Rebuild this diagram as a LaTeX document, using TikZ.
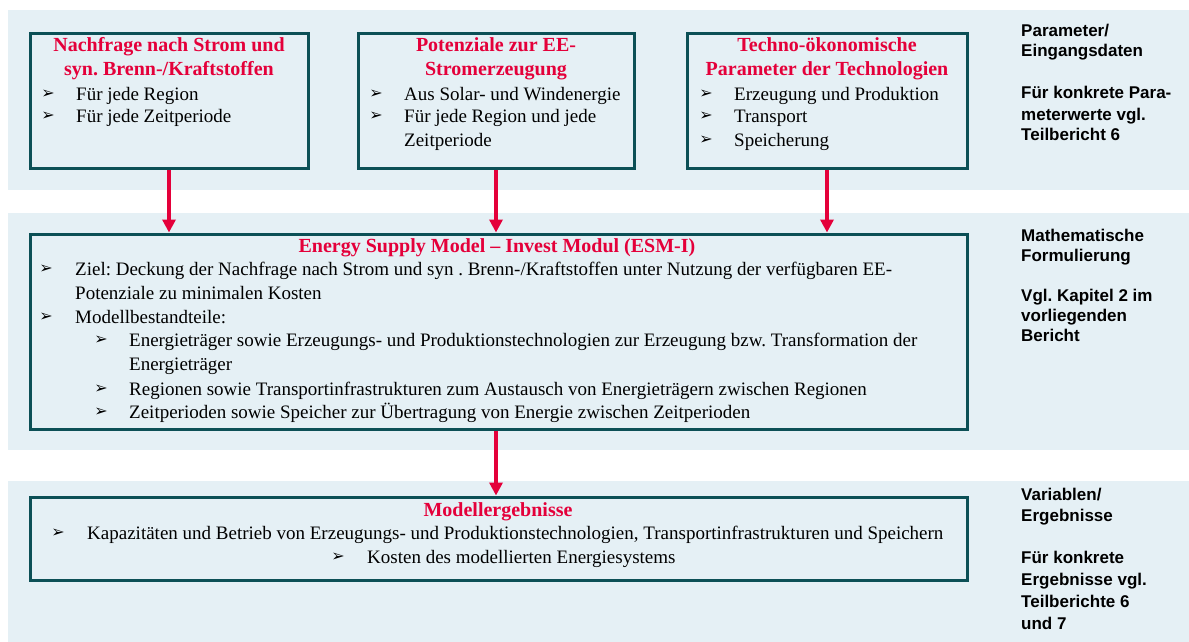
\documentclass[tikz,border=0pt]{standalone}
\usepackage{fontspec}
\setmainfont{Liberation Serif}
\newfontfamily\headfont{Liberation Sans}
\newfontfamily\symfont{DejaVu Sans}
\usetikzlibrary{arrows.meta}
\definecolor{band}{RGB}{229,240,245}
\definecolor{frame}{RGB}{12,80,86}
\definecolor{accent}{RGB}{228,0,58}
\frenchspacing
\begin{document}
\begin{tikzpicture}[x=1pt,y=-1pt,
  bandbox/.style={fill=band,draw=none},
  box/.style={draw=frame,line width=3pt,fill=band,inner sep=0pt},
  title/.style={font=\fontsize{20}{24}\selectfont\bfseries,text=accent,inner sep=0pt,anchor=base},
  body/.style={font=\fontsize{19}{23}\selectfont,inner sep=0pt,anchor=base west},
  blt/.style={font=\symfont\fontsize{16}{18}\selectfont,inner sep=0pt,anchor=center},
  side/.style={font=\headfont\bfseries\fontsize{17}{21}\selectfont,inner sep=0pt,anchor=base west},
  arr/.style={draw=accent,line width=4pt,-{Triangle[length=13pt,width=13pt]}}]
\useasboundingbox (0,0) rectangle (1189,642);
\fill[white] (0,0) rectangle (1189,642);
% bands
\fill[bandbox] (8,10) rectangle (1189,190);
\fill[bandbox] (8,213) rectangle (1189,450);
\fill[bandbox] (8,481) rectangle (1189,642);
% boxes
\node[box,minimum width=278pt,minimum height=134pt] (b1) at (169,101) {};
\node[box,minimum width=276pt,minimum height=134pt] (b2) at (496,101) {};
\node[box,minimum width=280pt,minimum height=134pt] (b3) at (827,101) {};
\node[box,minimum width=937pt,minimum height=195pt] (esm) at (498.5,331.5) {};
\node[box,minimum width=937pt,minimum height=83pt] (res) at (498.5,538.5) {};
% arrows
\draw[arr] (b1.south) -- (b1.south |- esm.north);
\draw[arr] (b2.south) -- (b2.south |- esm.north);
\draw[arr] (b3.south) -- (b3.south |- esm.north);
\draw[arr] (esm.south -| b2.south) -- (b2.south |- res.north);
% box 1
\node[title] (t1a) at (169,52) {Nachfrage nach Strom und};
\node[title] (t1b) at (169,75.5) {syn. Brenn-/Kraftstoffen};
\node[blt] (p1a) at (48,94.5) {➢};
\node[body] (l1a) at (76,100) {Für jede Region};
\node[blt] (p1b) at (48,116.5) {➢};
\node[body] (l1b) at (76,122) {Für jede Zeitperiode};
% box 2
\node[title] (t2a) at (496,52) {Potenziale zur EE-};
\node[title] (t2b) at (496,75.5) {Stromerzeugung};
\node[blt] (p2a) at (376,94.5) {➢};
\node[body] (l2a) at (404,100) {Aus Solar- und Windenergie};
\node[blt] (p2b) at (376,116.5) {➢};
\node[body] (l2b) at (404,122) {Für jede Region und jede};
\node[body] (l2c) at (404,146) {Zeitperiode};
% box 3
\node[title] (t3a) at (827,52) {Techno-ökonomische};
\node[title] (t3b) at (827,75.5) {Parameter der Technologien};
\node[blt] (p3a) at (706,94.5) {➢};
\node[body] (l3a) at (734,100) {Erzeugung und Produktion};
\node[blt] (p3b) at (706,116.5) {➢};
\node[body] (l3b) at (734,122) {Transport};
\node[blt] (p3c) at (706,140.5) {➢};
\node[body] (l3c) at (734,146) {Speicherung};
% ESM box
\node[title] (te) at (497,252) {Energy Supply Model – Invest Modul (ESM-I)};
\node[blt] (pe1) at (46,269.5) {➢};
\node[body] (le1) at (75,275) {Ziel: Deckung der Nachfrage nach Strom und syn . Brenn-/Kraftstoffen unter Nutzung der verfügbaren EE-};
\node[body] (le2) at (75,299) {Potenziale zu minimalen Kosten};
\node[blt] (pe2) at (46,317.5) {➢};
\node[body] (le3) at (75,323) {Modellbestandteile:};
\node[blt] (pe3) at (101,340.5) {➢};
\node[body] (le4) at (129,346) {Energieträger sowie Erzeugungs- und Produktionstechnologien zur Erzeugung bzw. Transformation der};
\node[body] (le5) at (129,370) {Energieträger};
\node[blt] (pe4) at (101,389.5) {➢};
\node[body] (le6) at (129,395) {Regionen sowie Transportinfrastrukturen zum Austausch von Energieträgern zwischen Regionen};
\node[blt] (pe5) at (101,412.5) {➢};
\node[body] (le7) at (129,418) {Zeitperioden sowie Speicher zur Übertragung von Energie zwischen Zeitperioden};
% results box
\node[title] (tr) at (498,516) {Modellergebnisse};
\node[blt] (pr1) at (58,533.5) {➢};
\node[body] (lr1) at (87,539) {Kapazitäten und Betrieb von Erzeugungs- und Produktionstechnologien, Transportinfrastrukturen und Speichern};
\node[blt] (pr2) at (338,557.5) {➢};
\node[body] (lr2) at (367,563) {Kosten des modellierten Energiesystems};
% side column
\node[side] (s1) at (1021,37) {Parameter/};
\node[side] (s2) at (1021,57) {Eingangsdaten};
\node[side] (s3) at (1021,99) {Für konkrete Para-};
\node[side] (s4) at (1021,120) {meterwerte vgl.};
\node[side] (s5) at (1021,140) {Teilbericht 6};
\node[side] (s6) at (1021,241) {Mathematische};
\node[side] (s7) at (1021,261) {Formulierung};
\node[side] (s8) at (1021,301) {Vgl. Kapitel 2 im};
\node[side] (s9) at (1021,321) {vorliegenden};
\node[side] (s10) at (1021,341.5) {Bericht};
\node[side] (s11) at (1021,500) {Variablen/};
\node[side] (s12) at (1021,521) {Ergebnisse};
\node[side] (s13) at (1021,563) {Für konkrete};
\node[side] (s14) at (1021,585) {Ergebnisse vgl.};
\node[side] (s15) at (1021,607) {Teilberichte 6};
\node[side] (s16) at (1021,629) {und 7};
\end{tikzpicture}
\end{document}
